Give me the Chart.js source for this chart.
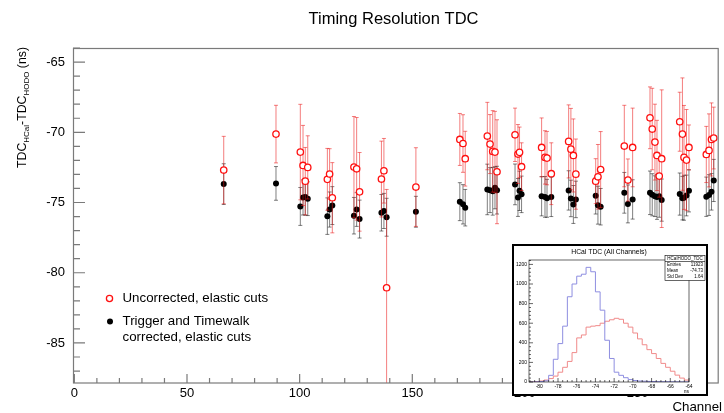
<!DOCTYPE html>
<html>
<head>
<meta charset="utf-8">
<title>Timing Resolution TDC</title>
<script src="https://cdn.jsdelivr.net/npm/chart.js@4.4.1/dist/chart.umd.min.js"></script>
<style>
  body { margin: 0; background: #fff; }
  #wrap { position: relative; width: 724px; height: 413px; }
  #inset { position: absolute; left: 512px; top: 244px; width: 192px; height: 148px; border: 2px solid #000; background: #fff; }
  canvas { display: block; }
</style>
</head>
<body>
<div id="wrap">
  <canvas id="mainChart" width="724" height="413"></canvas>
  <div id="inset"><canvas id="insetChart" width="192" height="148"></canvas></div>
</div>
<script>
// channel numbers of the measured blocks
const channels = [66.3, 89.5, 100.3, 101.5, 102.5, 103.6, 112.3, 113.3, 114.5, 124.1, 125.3, 126.6,
  136.3, 137.4, 138.6, 151.6, 171.1, 172.5, 173.5, 183.3, 184.5, 185.7, 186.7, 187.6,
  195.6, 196.9, 197.6, 198.5, 207.4, 208.9, 209.8, 211.7, 219.4, 220.4, 221.5, 222.6,
  231.4, 232.4, 233.6, 244.1, 245.7, 247.8, 255.5, 256.5, 257.7, 258.6, 259.6, 260.7,
  268.7, 269.9, 270.6, 271.7, 272.8, 280.5, 281.7, 282.8, 283.8];

const uncorrected = [-72.69, -70.13, -71.41, -72.36, -73.48, -72.5, -73.35, -72.97, -74.66, -72.48, -72.6, -74.24,
  -73.33, -72.74, -81.07, -73.9, -70.51, -70.8, -71.88, -70.27, -70.84, -71.36, -71.41, -72.81,
  -70.18, -71.55, -71.43, -72.45, -71.08, -71.79, -71.84, -72.95, -70.65, -71.2, -71.65, -72.98,
  -73.48, -73.17, -72.65, -70.98, -73.4, -71.08, -68.97, -69.77, -70.7, -71.65, -73.12, -71.88,
  -69.25, -70.13, -71.79, -71.98, -71.08, -71.58, -71.29, -70.51, -70.41];
const uncorrectedErr = [2.4, 2.05, 3.4, 2.85, 2.4, 2.25, 2.2, 1.8, 2.5, 3.6, 3.65, 2.8,
  2.7, 2.3, 7.0, 2.8, 1.85, 2.05, 1.95, 2.4, 2.1, 2.9, 2.9, 3.7,
  1.9, 2.1, 1.8, 1.7, 2.1, 1.9, 1.9, 2.2, 2.6, 2.9, 2.6, 2.5,
  1.6, 2.3, 2.7, 2.9, 1.5, 2.8, 2.2, 2.9, 2.7, 2.5, 1.5, 4.9,
  2.1, 4.0, 3.7, 3.6, 1.6, 2.0, 2.6, 2.6, 2.2];

const corrected = [-73.69, -73.64, -75.28, -74.64, -74.6, -74.73, -75.97, -75.5, -75.22, -75.94, -75.5, -76.18,
  -75.73, -75.6, -76.05, -75.66, -74.94, -75.13, -75.37, -74.07, -74.12, -74.2, -73.95, -74.12,
  -73.71, -74.64, -74.17, -74.42, -74.55, -74.6, -74.7, -74.6, -74.14, -74.71, -75.14, -74.78,
  -74.52, -75.19, -75.3, -74.31, -75.1, -74.78, -74.31, -74.45, -74.55, -74.6, -74.55, -74.83,
  -74.4, -74.69, -74.66, -74.5, -74.17, -74.59, -74.47, -74.24, -73.43];
const correctedErr = [1.45, 1.2, 1.35, 1.25, 1.3, 1.2, 1.3, 1.25, 1.35, 1.3, 1.2, 1.35,
  1.3, 1.25, 1.35, 1.1, 1.35, 1.4, 1.3, 1.8, 1.6, 1.7, 1.5, 1.7,
  1.45, 1.35, 1.4, 1.3, 1.4, 1.45, 1.35, 1.4, 1.4, 1.3, 1.35, 1.3,
  1.3, 1.35, 1.3, 1.45, 1.35, 1.4, 1.55, 1.5, 1.45, 1.6, 1.5, 1.5,
  1.5, 1.55, 1.6, 1.45, 1.5, 1.4, 1.45, 1.3, 1.5];

const xTickLabels = [0, 50, 100, 150, 200, 250];
const yTickLabels = [-85, -80, -75, -70, -65];

// inset histogram: bin low edges (ns) and counts
const binEdges = [-81, -80.5, -80, -79.5, -79, -78.5, -78, -77.5, -77, -76.5, -76, -75.5, -75, -74.5,
  -74, -73.5, -73, -72.5, -72, -71.5, -71, -70.5, -70, -69.5, -69, -68.5, -68, -67.5, -67, -66.5,
  -66, -65.5, -65, -64.5, -64];
const histCorrected = [0, 2, 5, 12, 68, 232, 392, 570, 870, 1000, 1080, 1100, 1170, 1125,
  920, 733, 426, 240, 100, 68, 44, 25, 15, 10, 8, 6, 5, 4, 3, 3, 2, 2, 1, 1];
const histUncorrected = [0, 5, 10, 20, 35, 60, 100, 150, 210, 300, 450, 480, 560, 570,
  575, 600, 620, 635, 650, 640, 600, 560, 500, 440, 380, 330, 290, 240, 190, 150, 110, 70, 40, 20];
const insetXTicks = [-80, -78, -76, -74, -72, -70, -68, -66, -64];
const insetYTicks = [0, 200, 400, 600, 800, 1000, 1200];
const statsRows = [["Entries", "11923"], ["Mean", "-74.73"], ["Std Dev", "1.64"]];

const FONT = "'Liberation Sans', Arial, Helvetica, sans-serif";
Chart.defaults.font.family = FONT;

const errorBars = {
  id: 'errorBars',
  beforeDatasetDraw(chart, args) {
    const ds = chart.data.datasets[args.index];
    if (!ds.errors) return;
    const c = chart.ctx, a = chart.chartArea;
    const xs = chart.scales.x, ys = chart.scales.y;
    c.save();
    c.beginPath();
    c.rect(a.left, a.top, a.right - a.left, a.bottom - a.top);
    c.clip();
    c.strokeStyle = ds.errorColor;
    c.lineWidth = 1;
    ds.data.forEach((p, i) => {
      const px = xs.getPixelForValue(p.x);
      const top = ys.getPixelForValue(p.y + ds.errors[i]);
      const bot = ys.getPixelForValue(p.y - ds.errors[i]);
      c.beginPath();
      c.moveTo(px, top); c.lineTo(px, bot);
      c.moveTo(px - 2, top); c.lineTo(px + 2, top);
      c.moveTo(px - 2, bot); c.lineTo(px + 2, bot);
      c.stroke();
    });
    c.restore();
  }
};

const rootFrame = {
  id: 'rootFrame',
  afterDraw(chart) {
    const c = chart.ctx, a = chart.chartArea;
    const xs = chart.scales.x, ys = chart.scales.y;
    c.save();
    c.strokeStyle = '#7a7a7a';
    c.lineWidth = 1.2;
    c.strokeRect(a.left + 0.5, a.top + 0.5, a.right - a.left - 1, a.bottom - a.top - 0.5);
    c.beginPath();
    xs.ticks.forEach(t => {
      const px = xs.getPixelForValue(t.value);
      const len = xTickLabels.includes(t.value) ? 9 : 5;
      c.moveTo(px, a.bottom); c.lineTo(px, a.bottom - len);
    });
    ys.ticks.forEach(t => {
      const py = ys.getPixelForValue(t.value);
      const len = yTickLabels.includes(t.value) ? 12 : 7;
      c.moveTo(a.left, py); c.lineTo(a.left + len, py);
    });
    c.stroke();

    c.fillStyle = '#000';
    c.font = '16.5px ' + FONT;
    c.textAlign = 'center';
    c.textBaseline = 'middle';
    c.fillText('Timing Resolution TDC', 393.5, 19);

    c.font = '13.3px ' + FONT;
    c.textAlign = 'right';
    c.textBaseline = 'alphabetic';
    c.fillText('Channel', 722, 410.5);

    // y title with subscripts
    c.save();
    c.translate(26, 168);
    c.rotate(-Math.PI / 2);
    c.textAlign = 'left';
    let pos = 0;
    [['TDC', false], ['HCal', true], ['-TDC', false], ['HODO', true], [' (ns)', false]].forEach(([txt, sub]) => {
      c.font = (sub ? '8px ' : '12.3px ') + FONT;
      c.fillText(txt, pos, sub ? 3 : 0);
      pos += c.measureText(txt).width;
    });
    c.restore();

    // legend
    c.lineWidth = 1.3;
    c.strokeStyle = '#ff1010';
    c.fillStyle = '#fff';
    c.beginPath(); c.arc(109.5, 298.5, 3.1, 0, Math.PI * 2); c.fill(); c.stroke();
    c.fillStyle = '#000';
    c.beginPath(); c.arc(110, 321.5, 3, 0, Math.PI * 2); c.fill();
    c.font = '13.3px ' + FONT;
    c.textAlign = 'left';
    c.textBaseline = 'middle';
    c.fillText(chart.data.datasets[0].label, 122.5, 298.5);
    c.fillText('Trigger and Timewalk', 122.5, 321.5);
    c.fillText('corrected, elastic cuts', 122.5, 337.8);
    c.restore();
  }
};

new Chart(document.getElementById('mainChart'), {
  type: 'scatter',
  data: {
    datasets: [
      {
        label: 'Uncorrected, elastic cuts',
        data: channels.map((ch, i) => ({ x: ch, y: uncorrected[i] })),
        errors: uncorrectedErr,
        errorColor: 'rgba(235, 20, 20, 0.55)',
        pointRadius: 3.2,
        pointBorderWidth: 1.3,
        pointBorderColor: '#ff1010',
        pointBackgroundColor: '#ffffff',
        order: 0
      },
      {
        label: 'Trigger and Timewalk corrected, elastic cuts',
        data: channels.map((ch, i) => ({ x: ch, y: corrected[i] })),
        errors: correctedErr,
        errorColor: 'rgba(0, 0, 0, 0.5)',
        pointRadius: 3,
        pointBorderWidth: 0,
        pointBorderColor: '#000',
        pointBackgroundColor: '#000',
        order: 1
      }
    ]
  },
  options: {
    animation: false,
    responsive: false,
    events: [],
    layout: { padding: { left: 0, top: 48, right: 5, bottom: 0 } },
    plugins: { legend: { display: false }, tooltip: { enabled: false } },
    scales: {
      x: {
        type: 'linear', min: -0.6, max: 286,
        afterBuildTicks: s => { s.ticks = []; for (let v = 0; v <= 280; v += 10) s.ticks.push({ value: v }); },
        ticks: {
          autoSkip: false, maxRotation: 0, padding: 3, color: '#000', font: { size: 13 },
          callback: v => xTickLabels.includes(v) ? String(v) : ''
        },
        grid: { display: false, drawTicks: false },
        border: { display: false },
        afterFit: s => { s.height = 30; }
      },
      y: {
        type: 'linear', min: -87.85, max: -64.0,
        afterBuildTicks: s => { s.ticks = []; for (let v = -87; v <= -64; v++) s.ticks.push({ value: v }); },
        ticks: {
          autoSkip: false, padding: 8, color: '#000', font: { size: 13 },
          callback: v => yTickLabels.includes(v) ? String(v) : ''
        },
        grid: { display: false, drawTicks: false },
        border: { display: false },
        afterFit: s => { s.width = 73; }
      }
    }
  },
  plugins: [errorBars, rootFrame]
});

function stepPoints(counts) {
  const pts = [{ x: binEdges[0], y: 0 }];
  counts.forEach((n, i) => pts.push({ x: binEdges[i], y: n }));
  pts.push({ x: binEdges[counts.length], y: counts[counts.length - 1] });
  pts.push({ x: binEdges[counts.length], y: 0 });
  return pts;
}

const insetFrame = {
  id: 'insetFrame',
  afterDraw(chart) {
    const c = chart.ctx, a = chart.chartArea;
    const xs = chart.scales.x, ys = chart.scales.y;
    c.save();
    c.strokeStyle = '#000';
    c.lineWidth = 0.6;
    c.strokeRect(a.left, a.top, a.right - a.left, a.bottom - a.top);
    c.beginPath();
    for (let v = -81; v <= -64; v += 0.5) {
      const px = xs.getPixelForValue(v);
      const len = insetXTicks.includes(v) ? 4 : 2;
      c.moveTo(px, a.bottom); c.lineTo(px, a.bottom - len);
    }
    for (let v = 0; v <= 1240; v += 40) {
      const py = ys.getPixelForValue(v);
      const len = insetYTicks.includes(v) ? 4 : 2;
      c.moveTo(a.left, py); c.lineTo(a.left + len, py);
    }
    c.stroke();

    c.fillStyle = '#000';
    c.font = '5px ' + FONT;
    c.textAlign = 'center';
    c.textBaseline = 'top';
    insetXTicks.forEach(v => c.fillText(String(v), xs.getPixelForValue(v), a.bottom + 2));
    c.textAlign = 'right';
    c.fillText('ns', a.right, a.bottom + 7.5);
    c.textBaseline = 'middle';
    insetYTicks.forEach(v => c.fillText(String(v), a.left - 2, ys.getPixelForValue(v)));

    c.font = '6.8px ' + FONT;
    c.textAlign = 'center';
    c.textBaseline = 'middle';
    c.fillText('HCal TDC (All Channels)', 95, 6);

    // stats box
    const bx = 151, by = 9.5, bw = 40, bh = 25;
    c.fillStyle = '#fff';
    c.fillRect(bx, by, bw, bh);
    c.lineWidth = 0.6;
    c.strokeRect(bx, by, bw, bh);
    c.beginPath(); c.moveTo(bx, by + 6); c.lineTo(bx + bw, by + 6); c.stroke();
    c.fillStyle = '#000';
    c.font = '4.5px ' + FONT;
    c.fillText('HCalHODO_TDC', bx + bw / 2, by + 3.2);
    statsRows.forEach((row, i) => {
      const ry = by + 9.5 + i * 6;
      c.textAlign = 'left';
      c.fillText(row[0], bx + 2, ry);
      c.textAlign = 'right';
      c.fillText(row[1], bx + bw - 2, ry);
    });
    c.restore();
  }
};

new Chart(document.getElementById('insetChart'), {
  type: 'line',
  data: {
    datasets: [
      { data: stepPoints(histCorrected), borderColor: '#8e8ee0', borderWidth: 1, stepped: true, pointRadius: 0, fill: false },
      { data: stepPoints(histUncorrected), borderColor: '#f08a8a', borderWidth: 1, stepped: true, pointRadius: 0, fill: false }
    ]
  },
  options: {
    animation: false,
    responsive: false,
    events: [],
    layout: { padding: { left: 15, top: 14, right: 17, bottom: 12 } },
    plugins: { legend: { display: false }, tooltip: { enabled: false } },
    scales: {
      x: { type: 'linear', display: false, min: -81.1, max: -64 },
      y: { type: 'linear', display: false, min: 0, max: 1245 }
    }
  },
  plugins: [insetFrame]
});
</script>
</body>
</html>
